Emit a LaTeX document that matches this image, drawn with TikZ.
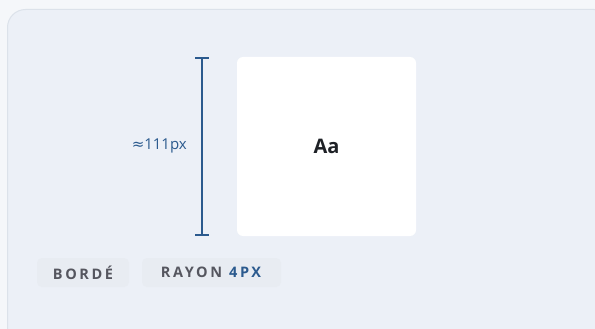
\documentclass[tikz,border=0pt]{standalone}
\usepackage{fontspec}
\setmainfont{Open Sans}
\setsansfont{Open Sans}
\newfontfamily\symfont{DejaVu Sans}
\definecolor{pagebg}{HTML}{F5F7FA}
\definecolor{cardbg}{HTML}{ECF0F7}
\definecolor{cardline}{HTML}{DCE2EA}
\definecolor{dimblue}{HTML}{2B5A8E}
\definecolor{chipbg}{HTML}{E8ECF2}
\definecolor{chiptext}{HTML}{55565F}
\definecolor{darktext}{HTML}{1E2126}
\tikzset{
  chip/.style={fill=chipbg, rounded corners=5pt, inner sep=0pt},
  chiplabel/.style={text=chiptext, font=\fontsize{14.5}{17}\selectfont\bfseries\addfontfeature{LetterSpace=18}, anchor=center, inner sep=0pt},
  dimline/.style={draw=dimblue, line width=2pt},
}
\begin{document}
\begin{tikzpicture}[x=1pt,y=-1pt]
\useasboundingbox (0,0) rectangle (595,329);
\fill[pagebg] (0,0) rectangle (595,329);
\draw[cardline, fill=cardbg, line width=1pt, rounded corners=18pt] (7.5,9.5) rectangle (612,345);
% white sample box
\node[fill=white, rounded corners=6pt, minimum width=179pt, minimum height=179pt, inner sep=0pt] (box) at (326.5,146.5) {};
\node[font=\fontsize{20}{24}\selectfont\bfseries, text=darktext, inner sep=0pt] (aa) at (box.center) {Aa};
% dimension
\coordinate (dtop) at (202,58);
\coordinate (dbot) at (202,235);
\draw[dimline] (dtop) -- (dbot);
\draw[dimline] ([xshift=-7pt]dtop) -- ([xshift=7pt]dtop);
\draw[dimline] ([xshift=-7pt]dbot) -- ([xshift=7pt]dbot);
\node[anchor=east, text=dimblue, font=\fontsize{15}{17}\selectfont, inner sep=0pt] (dimlabel) at (187,146) {{\symfont ≈}111px};
% chips
\fill[chip] (37,258) rectangle (129,287);
\node[chiplabel] (borde) at (83,272.5) {BORDÉ};
\fill[chip] (142,258) rectangle (281,287);
\node[chiplabel] (rayon) at (211,272.5) {RAYON\hspace{7pt}\textcolor{dimblue}{4PX}};
\end{tikzpicture}
\end{document}
